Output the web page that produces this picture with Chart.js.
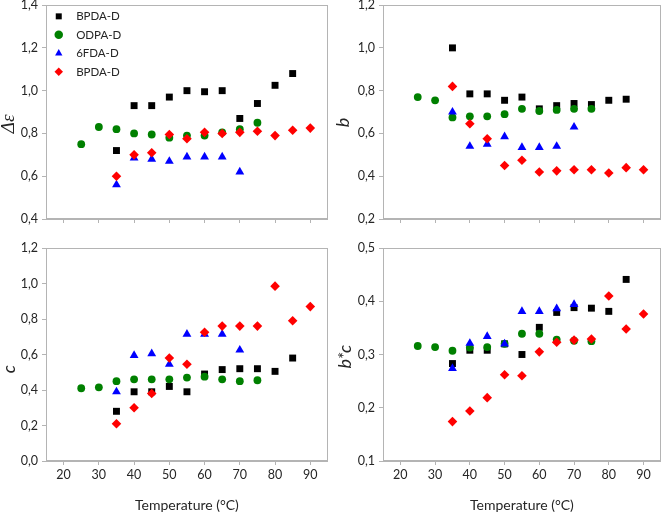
<!DOCTYPE html>
<html>
<head>
<meta charset="utf-8">
<script src="https://cdn.jsdelivr.net/npm/chart.js@4"></script>
<style>
  body { margin: 0; background: #fff; }
  #wrap { position: relative; width: 666px; height: 513px; overflow: hidden; }
  canvas { position: absolute; }
</style>
</head>
<body>
<div id="wrap">
  <canvas id="c1" width="333" height="233" style="left:0;top:0"></canvas>
  <canvas id="c2" width="333" height="233" style="left:333px;top:0"></canvas>
  <canvas id="c3" width="333" height="280" style="left:0;top:233px"></canvas>
  <canvas id="c4" width="333" height="280" style="left:333px;top:233px"></canvas>
</div>
<script>
// temperatures measured for each sample
const tBlack = [35, 40, 45, 50, 55, 60, 65, 70, 75, 80, 85]
const tGreen = [25, 30, 35, 40, 45, 50, 55, 60, 65, 70, 75]
const tBlue = [35, 40, 45, 50, 55, 60, 65, 70]
const tRed = [35, 40, 45, 50, 55, 60, 65, 70, 75, 80, 85, 90]

const names = ['BPDA-D', 'ODPA-D', '6FDA-D', 'BPDA-D']
const xTicks = [20, 30, 40, 50, 60, 70, 80, 90]

// delta epsilon
const deBlack = [0.72, 0.93, 0.93, 0.97, 1.00, 0.995, 1.00, 0.87, 0.94, 1.025, 1.08]
const deGreen = [0.75, 0.83, 0.82, 0.80, 0.795, 0.78, 0.79, 0.79, 0.805, 0.82, 0.85]
const deBlue = [0.56, 0.685, 0.68, 0.67, 0.69, 0.69, 0.69, 0.62]
const deRed = [0.60, 0.70, 0.71, 0.795, 0.775, 0.805, 0.80, 0.805, 0.81, 0.79, 0.815, 0.825]

// b
const bBlack = [1.00, 0.785, 0.785, 0.755, 0.77, 0.715, 0.73, 0.74, 0.735, 0.755, 0.76]
const bGreen = [0.77, 0.755, 0.675, 0.68, 0.68, 0.69, 0.715, 0.705, 0.71, 0.715, 0.715]
const bBlue = [0.70, 0.54, 0.55, 0.585, 0.535, 0.535, 0.54, 0.63]
const bRed = [0.82, 0.645, 0.575, 0.45, 0.475, 0.42, 0.425, 0.43, 0.43, 0.415, 0.44, 0.43]

// c
const cBlack = [0.28, 0.39, 0.39, 0.42, 0.39, 0.49, 0.515, 0.52, 0.52, 0.505, 0.58]
const cGreen = [0.41, 0.415, 0.45, 0.46, 0.46, 0.46, 0.47, 0.475, 0.46, 0.45, 0.455]
const cBlue = [0.39, 0.595, 0.605, 0.545, 0.715, 0.715, 0.715, 0.625]
const cRed = [0.21, 0.30, 0.38, 0.58, 0.545, 0.725, 0.76, 0.76, 0.76, 0.985, 0.79, 0.87]

// b*c
const bcBlack = [0.283, 0.308, 0.308, 0.32, 0.30, 0.351, 0.379, 0.388, 0.387, 0.381, 0.441]
const bcGreen = [0.316, 0.314, 0.307, 0.313, 0.314, 0.32, 0.339, 0.339, 0.328, 0.326, 0.325]
const bcBlue = [0.274, 0.321, 0.334, 0.32, 0.381, 0.381, 0.386, 0.394]
const bcRed = [0.174, 0.194, 0.219, 0.262, 0.26, 0.305, 0.323, 0.327, 0.329, 0.41, 0.348, 0.376]

Chart.defaults.font.family = 'Lato'
Chart.defaults.color = '#262626'
const axisGrey = '#b4b4b4'

function pts(xs, ys){
	return xs.map((x, i) => ({x: x, y: ys[i]}))
}

function sets(black, green, blue, red){
	return [
		{label: names[0], data: pts(tBlack, black), pointStyle: 'rect', pointRadius: 4.9, backgroundColor: '#000000', order: 4},
		{label: names[1], data: pts(tGreen, green), pointStyle: 'circle', pointRadius: 3.9, backgroundColor: '#008000', order: 3},
		{label: names[2], data: pts(tBlue, blue), pointStyle: 'triangle', pointRadius: 5.1, backgroundColor: '#0000ff', order: 2},
		{label: names[3], data: pts(tRed, red), pointStyle: 'rectRot', pointRadius: 4.8, backgroundColor: '#ff0000', order: 1}
	].map(d => Object.assign(d, {borderWidth: 0, pointHoverRadius: d.pointRadius}))
}

// light grey box round the plot area
const frame = {
	id: 'frame',
	beforeDatasetsDraw(chart){
		const a = chart.chartArea
		const ctx = chart.ctx
		ctx.save()
		ctx.strokeStyle = axisGrey
		ctx.lineWidth = 1
		const l = Math.round(a.left) + 0.5, t = Math.round(a.top) + 0.5
		const r = Math.round(a.right) - 0.5, b = Math.round(a.bottom) - 0.5
		ctx.strokeRect(l, t, r - l, b - t)
		ctx.restore()
	}
}

function panel(id, data, p){
	const fmt = v => v.toFixed(1).replace('.', ',')
	new Chart(document.getElementById(id), {
		type: 'scatter',
		data: {datasets: data},
		plugins: [frame],
		options: {
			responsive: false,
			animation: false,
			devicePixelRatio: 1,
			layout: {padding: {top: p.top, right: p.right, left: 0, bottom: 0}},
			plugins: {
				tooltip: {enabled: false},
				legend: {
					display: !!p.legend,
					position: 'chartArea',
					align: 'start',
					title: {display: true, text: '', padding: 0, font: {size: 3}},
					labels: {
						usePointStyle: true,
						boxHeight: 6,
						padding: 7,
						font: {size: 11.5},
						sort: (a, b) => a.datasetIndex - b.datasetIndex,
						generateLabels: chart => Chart.defaults.plugins.legend.labels.generateLabels(chart)
							.map(item => Object.assign(item, {text: '  ' + item.text}))
					}
				}
			},
			scales: {
				x: {
					type: 'linear',
					min: 15,
					max: 95,
					afterBuildTicks: s => { s.ticks = xTicks.map(v => ({value: v})) },
					ticks: {display: p.xLabels, padding: 2, font: {size: 12.5}},
					grid: {drawOnChartArea: false, drawTicks: true, tickLength: 4, color: axisGrey},
					border: {color: axisGrey},
					title: {display: p.xLabels, text: 'Temperature (°C)', font: {size: 14}, padding: {top: 0, bottom: -1}},
					afterFit: s => { s.height = p.xHeight; s.paddingLeft = 0; s.paddingRight = 0 }
				},
				y: {
					min: p.yMin,
					max: p.yMax,
					ticks: {stepSize: p.step, padding: 4, font: {size: 12.5}, callback: fmt},
					grid: {drawOnChartArea: false, drawTicks: true, tickLength: 4, color: axisGrey},
					border: {color: axisGrey},
					title: {display: true, text: p.title, font: p.titleFont, padding: {top: p.titlePad, bottom: 0}},
					afterFit: s => { s.width = p.yWidth; s.paddingTop = 0; s.paddingBottom = 0 }
				}
			}
		}
	})
}

// trailing spaces push the rotated titles a little below the axis centre, as in the original
panel('c1', sets(deBlack, deGreen, deBlue, deRed), {
	top: 5, right: 5, xHeight: 14, yWidth: 46, xLabels: false, legend: true,
	yMin: 0.4, yMax: 1.4, step: 0.2,
	title: 'Δε\u00a0\u00a0\u00a0\u00a0\u00a0', titleFont: {family: 'Liberation Serif', style: 'italic', size: 19}, titlePad: -2
})
panel('c2', sets(bBlack, bGreen, bBlue, bRed), {
	top: 5, right: 1, xHeight: 14, yWidth: 50, xLabels: false,
	yMin: 0.2, yMax: 1.2, step: 0.2,
	title: 'b\u00a0\u00a0\u00a0\u00a0\u00a0', titleFont: {style: 'italic', size: 18}, titlePad: -1
})
panel('c3', sets(cBlack, cGreen, cBlue, cRed), {
	top: 15, right: 5, xHeight: 52, yWidth: 46, xLabels: true,
	yMin: 0, yMax: 1.2, step: 0.2,
	title: 'c\u00a0\u00a0\u00a0\u00a0\u00a0\u00a0\u00a0', titleFont: {style: 'italic', size: 18}, titlePad: -2
})
panel('c4', sets(bcBlack, bcGreen, bcBlue, bcRed), {
	top: 15, right: 1, xHeight: 52, yWidth: 50, xLabels: true,
	yMin: 0.1, yMax: 0.5, step: 0.1,
	title: 'b*c\u00a0', titleFont: {style: 'italic', size: 18}, titlePad: 1
})
</script>
</body>
</html>
